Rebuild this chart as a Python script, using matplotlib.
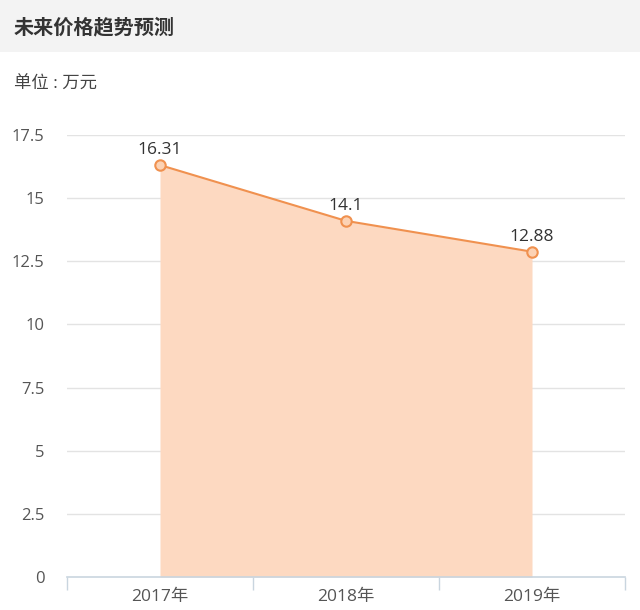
import matplotlib
matplotlib.use('Agg')
import matplotlib.pyplot as plt
from matplotlib.patches import Rectangle

plt.rcParams['font.family'] = ['Open Sans', 'Noto Sans CJK SC', 'DejaVu Sans']

# Data ########################################################################
years = ['2017年', '2018年', '2019年']
prices = [16.31, 14.1, 12.88]
price_labels = ['16.31', '14.1', '12.88']
y_ticks = [0, 2.5, 5, 7.5, 10, 12.5, 15, 17.5]
y_tick_labels = ['0', '2.5', '5', '7.5', '10', '12.5', '15', '17.5']

# Style #######################################################################
W, H = 640, 610
LINE = '#f0914f'
FILL = '#fdd9c1'
MARK = '#fcd2b4'
GRID = '#e3e3e3'
AXIS = '#c9d5df'
TXT = '#555555'

fig = plt.figure(figsize=(W / 100, H / 100), dpi=100)

# header bar
fig.patches.append(Rectangle((0, 1 - 52 / H), 1, 52 / H, transform=fig.transFigure,
                             facecolor='#f3f3f3', edgecolor='none', zorder=0))
fig.text(14 / W, 1 - 27 / H, '未来价格趋势预测', fontsize=14.5, color='#333333',
         fontweight='bold', va='center', ha='left',
         family=['Noto Sans CJK SC', 'DejaVu Sans'])
fig.text(14 / W, 1 - 85 / H, '单位 : 万元', fontsize=12.5, color='#444444',
         va='center', ha='left')

# plot area ###################################################################
x0, x1, y0, y1 = 67, 625, 577, 135
ax = fig.add_axes([x0 / W, (H - y0) / H, (x1 - x0) / W, (y0 - y1) / H])
xs = [i + 0.5 for i in range(len(years))]

ax.fill_between(xs, prices, 0, color=FILL, linewidth=0, zorder=1)
ax.plot(xs, prices, color=LINE, linewidth=1.5, zorder=3,
        marker='o', markersize=7.5, markerfacecolor=MARK,
        markeredgecolor=LINE, markeredgewidth=1.5)
for x, v, s in zip(xs, prices, price_labels):
    ax.annotate(s, (x, v), xytext=(0, 5), textcoords='offset points',
                ha='center', va='bottom', fontsize=12.5, color='#333333')

ax.set_xlim(0, len(years))
ax.set_ylim(0, 17.5)
ax.set_yticks(y_ticks)
ax.set_yticklabels(y_tick_labels)
for t in y_ticks[1:]:
    ax.axhline(t, color=GRID, linewidth=1, zorder=0)

ax.set_xticks(range(len(years) + 1), minor=False)
ax.set_xticklabels([])
ax.set_xticks(xs, minor=True)
ax.set_xticklabels(years, minor=True)
ax.tick_params(axis='x', which='major', length=9, color=AXIS, width=1)
ax.tick_params(axis='x', which='minor', length=0, pad=9, labelsize=12.5,
               labelcolor=TXT)
ax.tick_params(axis='y', length=0, pad=16, labelsize=12, labelcolor=TXT)

for side in ['top', 'right', 'left']:
    ax.spines[side].set_visible(False)
ax.spines['bottom'].set_color(AXIS)
ax.spines['bottom'].set_linewidth(1.2)
ax.spines['bottom'].set_zorder(4)

plt.savefig('out.png', dpi=100)
plt.close()
